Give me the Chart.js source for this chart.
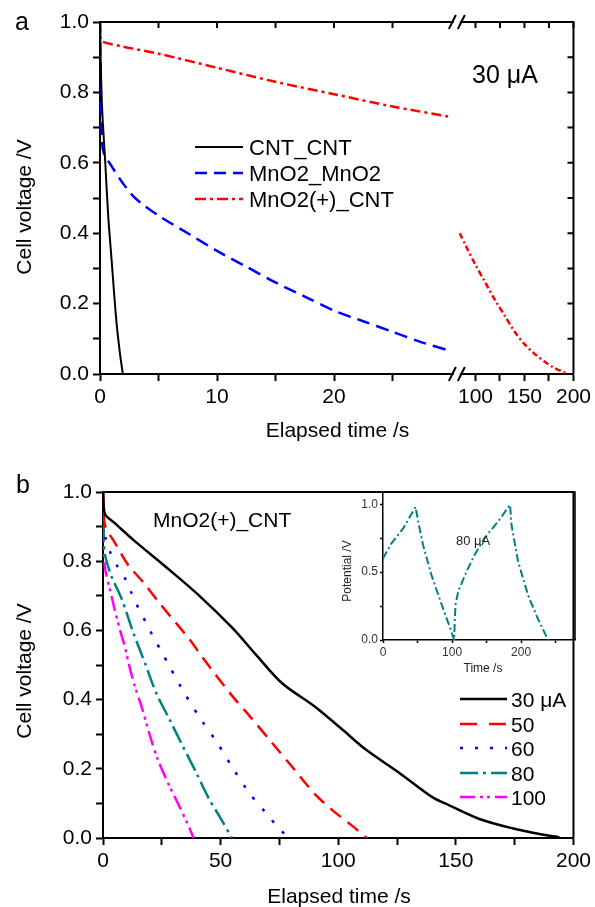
<!DOCTYPE html>
<html lang="en">
<head>
<meta charset="UTF-8">
<title>Cell voltage vs elapsed time</title>
<script src="https://cdn.jsdelivr.net/npm/chart.js"></script>
<style>
  body { margin: 0; background: #fff; }
  .wrap { position: relative; width: 595px; height: 907px; }
  canvas { position: absolute; }
  #chartA { left: 0; top: 0; }
  #chartB { left: 0; top: 450px; }
  #chartInset { left: 330px; top: 480px; }
</style>
</head>
<body>
<div class="wrap">
  <canvas id="chartA" width="595" height="450"></canvas>
  <canvas id="chartB" width="595" height="457"></canvas>
  <canvas id="chartInset" width="250" height="200"></canvas>
</div>
<script>
// ---------- panel a : 30 uA, three cells ----------
const cntTime = [0, 0.05, 0.15, 0.25, 0.45, 0.7, 1.0, 1.4, 1.7, 1.95];
const cntVolt = [1.0, 0.9, 0.78, 0.71, 0.6, 0.45, 0.32, 0.15, 0.06, 0.0];

const mnTime = [0, 0.05, 0.15, 0.3, 1, 2, 3, 5, 7.5, 10, 12.5, 15, 17.5, 20, 22.5, 25, 27.5, 30];
const mnVolt = [1.0, 0.85, 0.68, 0.63, 0.59, 0.54, 0.50, 0.45, 0.40, 0.35, 0.305, 0.26, 0.22, 0.18, 0.15, 0.12, 0.09, 0.065];

// MnO2(+)_CNT, before and after the axis break
const redTimeA = [0, 0.05, 0.15, 2, 5, 10, 15, 20, 25, 30];
const redVoltA = [1.0, 0.96, 0.945, 0.93, 0.91, 0.87, 0.83, 0.795, 0.76, 0.73];
const redTimeB = [84, 90, 100, 110, 120, 130, 140, 150, 160, 170, 180, 190, 195];
const redVoltB = [0.40, 0.365, 0.31, 0.26, 0.21, 0.165, 0.12, 0.085, 0.058, 0.036, 0.018, 0.005, 0.0];

// ---------- panel b : MnO2(+)_CNT at several currents ----------
const i30Time = [0, 0.3, 1, 5, 13, 27, 41, 55, 65, 76, 90, 102, 112, 126, 140, 147, 160, 174, 185, 194];
const i30Volt = [1.0, 0.96, 0.934, 0.91, 0.861, 0.782, 0.700, 0.607, 0.53, 0.448, 0.38, 0.312, 0.254, 0.188, 0.118, 0.095, 0.055, 0.028, 0.012, 0.002];

const i50Time = [0, 0.3, 0.8, 3, 4.4, 10.7, 17, 24, 37, 42.5, 55, 62, 72, 80.5, 90.5, 99, 106, 112];
const i50Volt = [1.0, 0.95, 0.905, 0.875, 0.861, 0.789, 0.74, 0.679, 0.572, 0.52, 0.41, 0.355, 0.274, 0.205, 0.124, 0.072, 0.035, 0.0];

const i60Time = [0, 0.3, 1, 3, 5.8, 9.3, 12.2, 15, 18.5, 21.3, 24.9, 27.7, 34.7, 41.8, 48.2, 55.2, 62.3, 69.4, 73.6, 78];
const i60Volt = [1.0, 0.92, 0.87, 0.827, 0.789, 0.751, 0.707, 0.665, 0.62, 0.582, 0.539, 0.503, 0.418, 0.341, 0.279, 0.202, 0.129, 0.071, 0.037, 0.005];

const i80Time = [0, 0.3, 0.8, 3.7, 8, 12.8, 17.8, 22.7, 28.4, 33.3, 39.7, 45.3, 49.6, 54.8];
const i80Volt = [1.0, 0.88, 0.82, 0.755, 0.69, 0.595, 0.506, 0.418, 0.341, 0.274, 0.188, 0.11, 0.062, 0.0];

const i100Time = [0, 0.3, 0.85, 3, 5, 7.2, 9.3, 10.7, 13.6, 16.4, 19.9, 23.4, 28.4, 32.6, 36, 38.5];
const i100Volt = [1.0, 0.85, 0.78, 0.717, 0.66, 0.602, 0.553, 0.51, 0.437, 0.38, 0.297, 0.225, 0.148, 0.09, 0.04, 0.0];

// inset : charge / discharge cycles at 80 uA
const cycTime = [0, 12, 29, 46, 47, 49, 51, 58, 70, 85, 97, 103, 104, 105, 109, 121, 133, 147, 167, 183, 184, 186, 195.5, 210, 224, 239];
const cycVolt = [0.60, 0.71, 0.82, 0.97, 0.98, 0.93, 0.87, 0.70, 0.48, 0.26, 0.09, 0.0, 0.15, 0.26, 0.36, 0.505, 0.63, 0.75, 0.875, 0.99, 0.995, 0.85, 0.58, 0.33, 0.16, 0.0];

// ---------- ticks ----------
const voltTicks = [0, 0.1, 0.2, 0.3, 0.4, 0.5, 0.6, 0.7, 0.8, 0.9, 1.0];
const voltLabels = [0, 0.2, 0.4, 0.6, 0.8, 1.0];
const aLeftTicks = [0, 5, 10, 15, 20, 25];
const aLeftLabels = [0, 10, 20];
const aRightTicks = [100, 125, 150, 175, 200];
const aRightLabels = [100, 150, 200];
const bTimeTicks = [0, 25, 50, 75, 100, 125, 150, 175, 200];
const bTimeLabels = [0, 50, 100, 150, 200];
const insetTimeTicks = [0, 50, 100, 150, 200, 250];
const insetTimeLabels = [0, 100, 200];
const insetVoltTicks = [0, 0.25, 0.5, 0.75, 1.0];
const insetVoltLabels = [0, 0.5, 1.0];

const FONT = "'Liberation Sans', Arial, sans-serif";

function pts(t, v) {
  return t.map((x, i) => ({ x: x, y: v[i] }));
}

function line(label, t, v, color, dash, xAxis, width, tension) {
  return {
    label: label,
    data: pts(t, v),
    borderColor: color,
    borderWidth: width || 2.5,
    borderDash: dash,
    pointRadius: 0,
    tension: tension === undefined ? 0.3 : tension,
    fill: false,
    xAxisID: xAxis || 'x',
    yAxisID: 'y'
  };
}

function axis(ticks, labels, fmt, size, extra) {
  const a = {
    type: 'linear',
    border: { color: '#000', width: 2 },
    grid: { drawOnChartArea: false, color: '#000', tickLength: 7, tickWidth: 2 },
    ticks: {
      font: { family: FONT, size: size },
      color: '#000',
      autoSkip: false,
      maxRotation: 0,
      padding: 4,
      callback: v => labels.includes(v) ? fmt(v) : ''
    },
    afterBuildTicks: s => { s.ticks = ticks.map(v => ({ value: v })); }
  };
  return Object.assign(a, extra);
}

// plain text labels (panel letters, notes, axis titles)
function textPlugin(items) {
  return {
    id: 'texts',
    afterDraw(chart) {
      const ctx = chart.ctx;
      items.forEach(it => {
        ctx.save();
        ctx.font = it.size + 'px ' + FONT;
        ctx.fillStyle = it.color || '#000';
        ctx.textAlign = it.align || 'left';
        ctx.textBaseline = it.baseline || 'alphabetic';
        ctx.translate(it.x, it.y);
        if (it.rotate) ctx.rotate(-Math.PI / 2);
        ctx.fillText(it.text, 0, 0);
        ctx.restore();
      });
    }
  };
}

// top and right edges of the plot box
function framePlugin(w) {
  return {
    id: 'frame',
    afterDraw(chart) {
      const { ctx, chartArea: a } = chart;
      ctx.save();
      ctx.strokeStyle = '#000';
      ctx.lineWidth = w;
      ctx.beginPath();
      ctx.moveTo(a.left, a.top);
      ctx.lineTo(a.right, a.top);
      ctx.lineTo(a.right, a.bottom);
      ctx.stroke();
      ctx.restore();
    }
  };
}

// legend drawn as line samples with text
function legendPlugin(rows, x0, x1, tx, size) {
  return {
    id: 'lineLegend',
    afterDraw(chart) {
      const ctx = chart.ctx;
      rows.forEach(r => {
        const ds = chart.data.datasets[r.index];
        ctx.save();
        ctx.strokeStyle = ds.borderColor;
        ctx.lineWidth = ds.borderWidth;
        ctx.setLineDash(r.dash || ds.borderDash || []);
        ctx.beginPath();
        ctx.moveTo(x0, r.y);
        ctx.lineTo(x1, r.y);
        ctx.stroke();
        ctx.setLineDash([]);
        ctx.fillStyle = '#000';
        ctx.font = size + 'px ' + FONT;
        ctx.textBaseline = 'alphabetic';
        ctx.fillText(r.text || ds.label, tx, r.y + size * 0.36);
        ctx.restore();
      });
    }
  };
}

// inward ticks on top / right and the axis break marks of panel a
const breakPlugin = {
  id: 'breakMarks',
  afterDraw(chart) {
    const { ctx, chartArea: a, scales } = chart;
    ctx.save();
    ctx.strokeStyle = '#000';
    ctx.lineWidth = 2;
    ctx.beginPath();
    aLeftTicks.forEach(v => {
      const x = scales.xL.getPixelForValue(v);
      ctx.moveTo(x, a.top); ctx.lineTo(x, a.top + 6);
    });
    aRightTicks.forEach(v => {
      const x = scales.xR.getPixelForValue(v);
      ctx.moveTo(x, a.top); ctx.lineTo(x, a.top + 6);
    });
    voltTicks.forEach(v => {
      const y = scales.y.getPixelForValue(v);
      ctx.moveTo(a.right, y); ctx.lineTo(a.right - 6, y);
    });
    ctx.stroke();
    const xb = scales.xL.right;
    [a.top, a.bottom].forEach(y => {
      ctx.fillStyle = '#fff';
      ctx.fillRect(xb - 3, y - 3, 6, 6);
      ctx.beginPath();
      ctx.moveTo(xb - 8, y + 7); ctx.lineTo(xb - 1, y - 7);
      ctx.moveTo(xb + 1, y + 7); ctx.lineTo(xb + 8, y - 7);
      ctx.stroke();
    });
    ctx.restore();
  }
};

const common = {
  responsive: false,
  animation: false,
  events: [],
  plugins: { legend: { display: false }, tooltip: { enabled: false } }
};

// ---------- chart a ----------
const fmtInt = v => String(v);
const fmtVolt = v => v.toFixed(1);

new Chart(document.getElementById('chartA'), {
  type: 'line',
  data: {
    datasets: [
      line('CNT_CNT', cntTime, cntVolt, '#000000', [], 'xL', 2),
      line('MnO2_MnO2', mnTime, mnVolt, '#0000ff', [13, 7], 'xL'),
      line('MnO2(+)_CNT', redTimeA, redVoltA, '#ff0000', [10, 4, 3, 4], 'xL'),
      line('MnO2(+)_CNT', redTimeB, redVoltB, '#ff0000', [6, 3, 2, 3], 'xR')
    ]
  },
  options: Object.assign({}, common, {
    layout: { padding: { left: 0, right: 20, top: 22, bottom: 0 } },
    scales: {
      xL: axis(aLeftTicks, aLeftLabels, fmtInt, 21, {
        position: 'bottom', stack: 'time', stackWeight: 358, min: 0, max: 30.5,
        afterFit: s => { s.height = 76; }
      }),
      xR: axis(aRightTicks, aRightLabels, fmtInt, 21, {
        position: 'bottom', stack: 'time', stackWeight: 117, min: 81, max: 200,
        afterFit: s => { s.height = 76; }
      }),
      y: axis(voltTicks, voltLabels, fmtVolt, 21, {
        position: 'left', min: 0, max: 1,
        afterFit: s => { s.width = 100; }
      })
    }
  }),
  plugins: [
    framePlugin(2),
    breakPlugin,
    legendPlugin([
      { index: 0, y: 147 },
      { index: 1, y: 173, dash: [12, 7] },
      { index: 2, y: 199, dash: [11, 4, 3, 4] }
    ], 195, 243, 249, 22),
    textPlugin([
      { text: 'a', x: 15, y: 30, size: 25 },
      { text: '30 \u03bcA', x: 472, y: 83, size: 25 },
      { text: 'Elapsed time /s', x: 337.5, y: 437, size: 21, align: 'center' },
      { text: 'Cell voltage /V', x: 25, y: 207, size: 21, align: 'center', baseline: 'middle', rotate: true }
    ])
  ]
});

// ---------- chart b ----------
new Chart(document.getElementById('chartB'), {
  type: 'line',
  data: {
    datasets: [
      line('30 \u03bcA', i30Time, i30Volt, '#000000', []),
      line('50', i50Time, i50Volt, '#ff0000', [14, 8]),
      line('60', i60Time, i60Volt, '#0000ff', [3, 12]),
      line('80', i80Time, i80Volt, '#008080', [18, 5, 3, 5]),
      line('100', i100Time, i100Volt, '#ff00ff', [15, 5, 3, 4, 3, 5])
    ]
  },
  options: Object.assign({}, common, {
    layout: { padding: { left: 0, right: 20, top: 42, bottom: 0 } },
    scales: {
      x: axis(bTimeTicks, bTimeLabels, fmtInt, 21, {
        position: 'bottom', min: 0, max: 200,
        afterFit: s => { s.height = 69; }
      }),
      y: axis(voltTicks, voltLabels, fmtVolt, 21, {
        position: 'left', min: 0, max: 1,
        afterFit: s => { s.width = 103; }
      })
    }
  }),
  plugins: [
    framePlugin(2),
    legendPlugin([
      { index: 0, y: 249 },
      { index: 1, y: 274, dash: [17, 12] },
      { index: 2, y: 298 },
      { index: 3, y: 323 },
      { index: 4, y: 347 }
    ], 460, 507, 511, 21),
    textPlugin([
      { text: 'b', x: 16, y: 43, size: 25 },
      { text: 'MnO2(+)_CNT', x: 153, y: 77, size: 21 },
      { text: 'Elapsed time /s', x: 339, y: 453, size: 21, align: 'center' },
      { text: 'Cell voltage /V', x: 25, y: 221, size: 21, align: 'center', baseline: 'middle', rotate: true }
    ])
  ]
});

// ---------- inset ----------
function insetAxis(ticks, labels, fmt, extra) {
  const a = axis(ticks, labels, fmt, 12, extra);
  a.border.width = 1.5;
  a.grid.tickLength = 3;
  a.grid.tickWidth = 1.5;
  a.ticks.color = '#333';
  a.ticks.padding = 2;
  return a;
}

new Chart(document.getElementById('chartInset'), {
  type: 'line',
  data: {
    datasets: [
      line('80 \u03bcA', cycTime, cycVolt, '#008080', [8, 3, 2, 3], 'x', 2, 0)
    ]
  },
  options: Object.assign({}, common, {
    layout: { padding: { left: 0, right: 5, top: 12, bottom: 0 } },
    scales: {
      x: insetAxis(insetTimeTicks, insetTimeLabels, fmtInt, {
        position: 'bottom', min: 0, max: 278,
        afterFit: s => { s.height = 40; }
      }),
      y: insetAxis(insetVoltTicks, insetVoltLabels, fmtVolt, {
        position: 'left', min: 0, max: 1.09,
        afterFit: s => { s.width = 53; }
      })
    }
  }),
  plugins: [
    framePlugin(1.5),
    textPlugin([
      { text: '80 \u03bcA', x: 126, y: 65, size: 13, color: '#222' },
      { text: 'Time /s', x: 153, y: 192, size: 12, align: 'center', color: '#222' },
      { text: 'Potential /V', x: 18, y: 91, size: 12, align: 'center', baseline: 'middle', rotate: true, color: '#222' }
    ])
  ]
});
</script>
</body>
</html>
